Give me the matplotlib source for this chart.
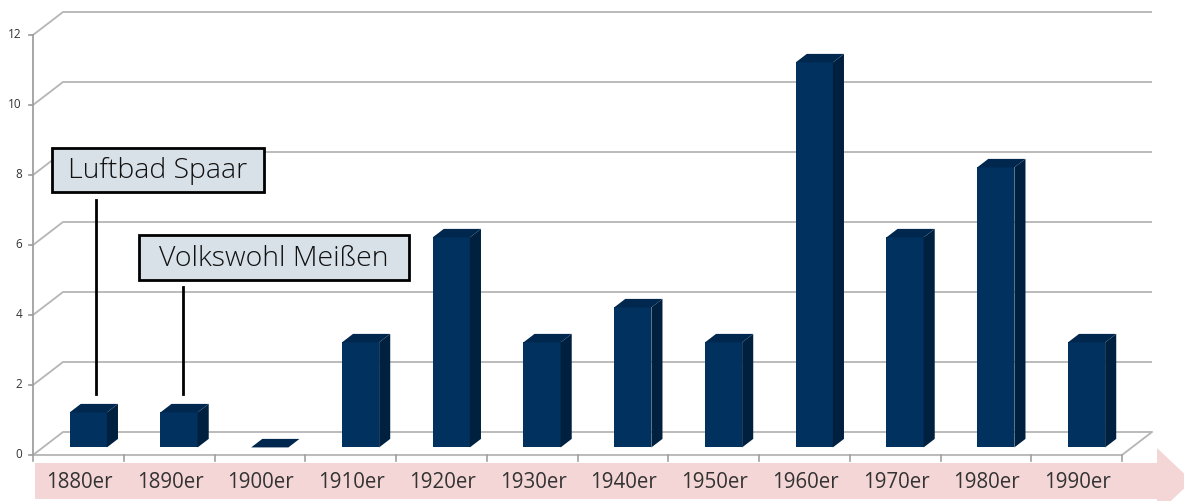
import matplotlib
matplotlib.use("Agg")
import matplotlib.pyplot as plt
from matplotlib.patches import Polygon, Rectangle

# ---- data ----
categories = ["1880er", "1890er", "1900er", "1910er", "1920er", "1930er",
              "1940er", "1950er", "1960er", "1970er", "1980er", "1990er"]
values = [1, 1, 0, 3, 6, 3, 4, 3, 11, 6, 8, 3]
yticks = [0, 2, 4, 6, 8, 10, 12]
annotations = [("Luftbad Spaar", 0), ("Volkswohl Meißen", 1)]

W_PX, H_PX = 1184, 501
fig = plt.figure(figsize=(W_PX / 100, H_PX / 100), dpi=100)
ax = fig.add_axes([0, 0, 1, 1])
ax.axis("off")

# pixel scale of the chart
PX = 90.75      # px per category
PY = 35.0       # px per unit value
X0, Y0 = 33, 455
n = len(categories)
ax.set_xlim(-0.5 - X0 / PX, -0.5 + (W_PX - X0) / PX)
ax.set_ylim(-(H_PX - Y0) / PY, Y0 / PY)

DX = 30 / PX    # full depth offset in data units
DY = 23 / PY
grid_c = "#b5b5b5"
left = -0.5
right = n - 0.5


def fig_xy(x, y):
    return (x / W_PX, 1 - y / H_PX)


# back wall gridlines
for v in yticks:
    ax.plot([left, left + DX, right + DX], [v, v + DY, v + DY],
            color=grid_c, lw=1.3, zorder=1, solid_capstyle="butt")
    ax.plot([left - 4 / PX, left], [v, v], color="#999999", lw=1.2, zorder=1)
    ax.text(left - 11 / PX, v, str(v), ha="right", va="center",
            fontsize=8.5, color="#333333", family="Open Sans")
# floor and axis
ax.plot([left, right, right + DX], [0, 0, DY], color=grid_c, lw=1.3, zorder=1)
ax.plot([left, left], [0, yticks[-1]], color="#a0a0a0", lw=1.3, zorder=1)
for b in range(n + 1):
    xb = left + b
    ax.plot([xb, xb], [0, -6 / PY], color="#a0a0a0", lw=1.2, zorder=1)

# pink arrow band (in pixel coordinates of the figure)
band_px = [(35, 463), (1157, 463), (1157, 448), (1192, 481), (1157, 514),
           (1157, 499), (35, 499)]
ax.add_patch(Polygon([fig_xy(x, y) for x, y in band_px], closed=True,
                     transform=fig.transFigure, facecolor="#f5d6d6",
                     edgecolor="none", zorder=0, clip_on=False))

for i, lab in enumerate(categories):
    ax.text(i + 0.01, -(483 - Y0) / PY, lab, ha="center", va="center",
            fontsize=14.8, color="#333333", family="Open Sans", zorder=2)

# 3D bars
d0, d1 = 0.33, 0.70
BW = 0.41
front_c, side_c, top_c = "#00315f", "#00203f", "#00284f"
xs = list(range(n))
ax.bar([x + d0 * DX for x in xs], values, width=BW, bottom=d0 * DY,
       color=front_c, linewidth=0, zorder=3)
ddx, ddy = (d1 - d0) * DX, (d1 - d0) * DY
for x, v in zip(xs, values):
    xl = x + d0 * DX - BW / 2
    xr = x + d0 * DX + BW / 2
    b0 = d0 * DY
    top = v + d0 * DY
    if v > 0:
        ax.add_patch(Polygon([(xr, b0), (xr + ddx, b0 + ddy),
                              (xr + ddx, top + ddy), (xr, top)],
                             closed=True, facecolor=side_c, edgecolor="none",
                             zorder=3))
    ax.add_patch(Polygon([(xl, top), (xr, top), (xr + ddx, top + ddy),
                          (xl + ddx, top + ddy)], closed=True,
                         facecolor=top_c, edgecolor="none", zorder=3))

# annotation boxes (pixel rectangles) and connector lines
box_px = [(52, 148, 264, 192), (139, 235, 409, 280)]
line_px = [(96, 200), (183, 287)]
for (label, idx), (bx0, by0, bx1, by1), (lx, ly) in zip(annotations, box_px,
                                                          line_px):
    fx0, fy1 = fig_xy(bx0, by0)
    fx1, fy0 = fig_xy(bx1, by1)
    ax.add_patch(Rectangle((fx0, fy0), fx1 - fx0, fy1 - fy0,
                           transform=fig.transFigure, facecolor="#d8e0e8",
                           edgecolor="black", linewidth=2, zorder=6,
                           clip_on=False))
    tx, ty = fig_xy((bx0 + bx1) / 2, (by0 + by1) / 2 + 1)
    fig.text(tx, ty, label, ha="center", va="center", fontsize=20.5,
             color="#111111", family="Open Sans", fontweight="light",
             zorder=7)
    xd = (lx - X0) / PX - 0.5
    ytop = (Y0 - ly) / PY
    yend = values[idx] + d1 * DY + 10 / PY
    ax.plot([xd, xd], [ytop, yend], color="black", lw=2, zorder=5)

fig.savefig("out.png", dpi=100)
